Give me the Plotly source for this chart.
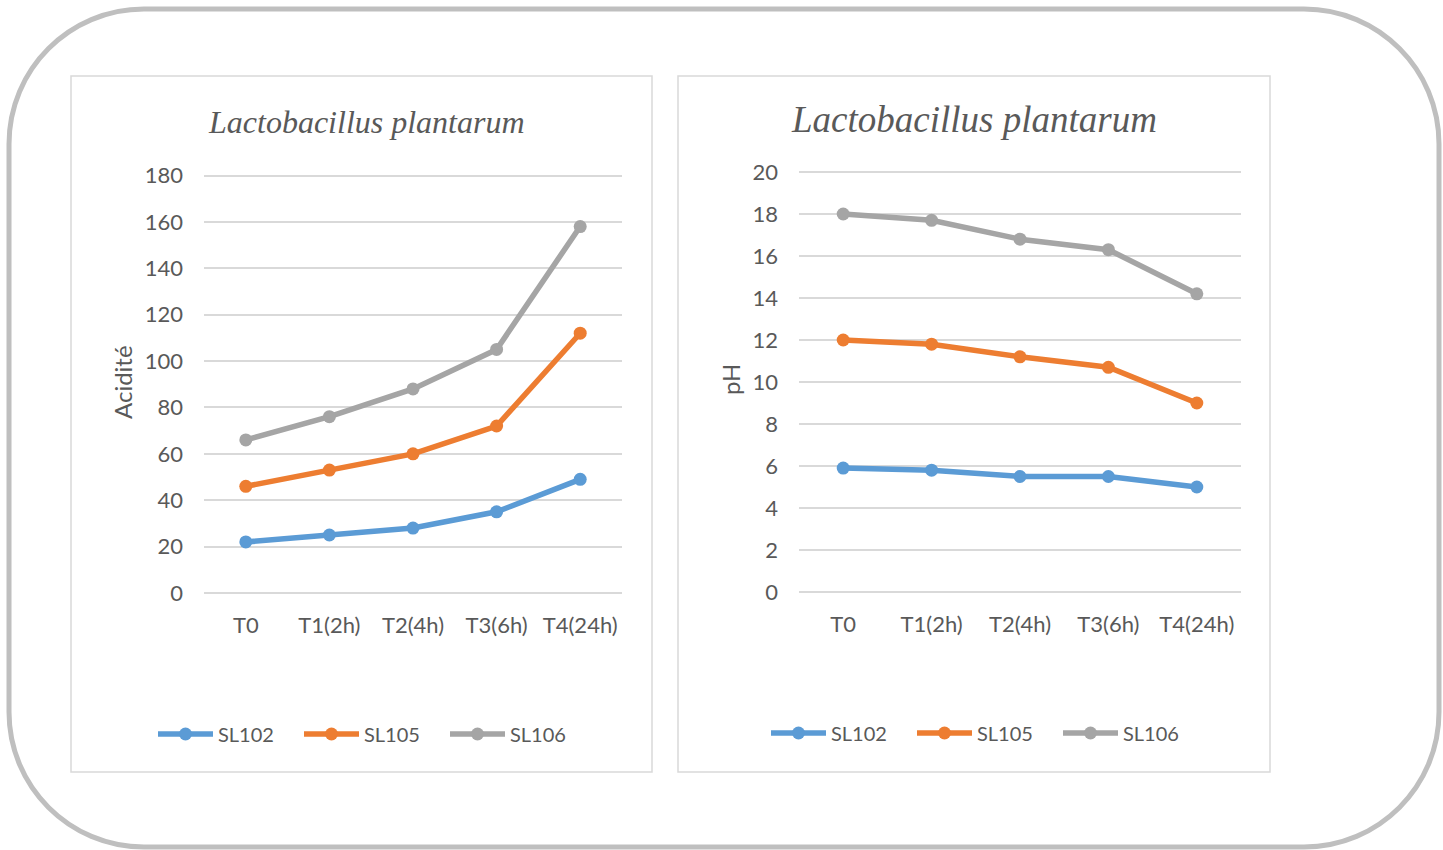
import plotly.graph_objects as go

# ---- data ----
categories = ["T0", "T1(2h)", "T2(4h)", "T3(6h)", "T4(24h)"]
series_names = ["SL102", "SL105", "SL106"]

acidity_sl102 = [22, 25, 28, 35, 49]
acidity_sl105 = [46, 53, 60, 72, 112]
acidity_sl106 = [66, 76, 88, 105, 158]

ph_sl102 = [5.9, 5.8, 5.5, 5.5, 5.0]
ph_sl105 = [12.0, 11.8, 11.2, 10.7, 9.0]
ph_sl106 = [18.0, 17.7, 16.8, 16.3, 14.2]

acidity_ticks = [0, 20, 40, 60, 80, 100, 120, 140, 160, 180]
ph_ticks = [0, 2, 4, 6, 8, 10, 12, 14, 16, 18, 20]

colors = ["#5B9BD5", "#ED7D31", "#A5A5A5"]
TEXT = "#595959"
GRID = "#D9D9D9"

W, H = 1443, 850


def fx(px):
    return px / W


def fy(py):
    return 1 - py / H


def y_axis_geometry(vmin, vmax, py_min, py_max, pad=3):
    """Range and domain so that vmin..vmax sit at pixel rows py_min..py_max,
    with a few pixels of slack so the end gridlines are kept."""
    per_px = (vmax - vmin) / (py_min - py_max)
    rng = [vmin - pad * per_px, vmax + pad * per_px]
    dom = [fy(py_min + pad), fy(py_max - pad)]
    return rng, dom


fig = go.Figure()

for name, vals, col in zip(series_names, [acidity_sl102, acidity_sl105, acidity_sl106], colors):
    fig.add_trace(go.Scatter(
        x=categories, y=vals, name=name, mode="lines+markers",
        line=dict(color=col, width=5.5), marker=dict(color=col, size=13),
        xaxis="x", yaxis="y", legend="legend",
    ))

for name, vals, col in zip(series_names, [ph_sl102, ph_sl105, ph_sl106], colors):
    fig.add_trace(go.Scatter(
        x=categories, y=vals, name=name, mode="lines+markers",
        line=dict(color=col, width=5.5), marker=dict(color=col, size=13),
        xaxis="x2", yaxis="y2", legend="legend2",
    ))

tick_font = dict(family="Lato", size=22, color=TEXT)

common_x = dict(
    type="category", range=[-0.5, 4.5], showgrid=False, zeroline=False,
    showline=False, ticks="", tickfont=tick_font, ticklabelstandoff=14,
    fixedrange=True,
)
common_y = dict(
    showgrid=True, gridcolor=GRID, gridwidth=1.5, zeroline=False,
    showline=False, ticks="", tickfont=tick_font, ticklabelstandoff=20,
    fixedrange=True,
)

y1_range, y1_dom = y_axis_geometry(0, 180, 593, 175.5)
y2_range, y2_dom = y_axis_geometry(0, 20, 592, 172)

legend_style = dict(
    orientation="h", xanchor="left", yanchor="middle",
    font=dict(family="Lato", size=20, color=TEXT),
    bgcolor="rgba(0,0,0,0)", itemwidth=55, entrywidth=76, traceorder="normal",
)

fig.update_layout(
    width=W, height=H,
    margin=dict(l=0, r=0, t=0, b=0, autoexpand=False),
    paper_bgcolor="white", plot_bgcolor="white",
    xaxis=dict(domain=[fx(204), fx(622)], anchor="y", **common_x),
    yaxis=dict(domain=y1_dom, anchor="x", range=y1_range,
               tickvals=acidity_ticks, **common_y),
    xaxis2=dict(domain=[fx(799), fx(1241)], anchor="y2", **common_x),
    yaxis2=dict(domain=y2_dom, anchor="x2", range=y2_range,
                tickvals=ph_ticks, **common_y),
    legend=dict(x=fx(153), y=fy(734), **legend_style),
    legend2=dict(x=fx(766), y=fy(733), **legend_style),
    showlegend=True,
)

# chart titles
fig.add_annotation(text="<i>Lactobacillus plantarum</i>", x=fx(366), y=fy(122),
                   xref="paper", yref="paper", showarrow=False,
                   xanchor="center", yanchor="middle",
                   font=dict(family="Liberation Serif", size=32, color=TEXT))
fig.add_annotation(text="<i>Lactobacillus plantarum</i>", x=fx(974), y=fy(119),
                   xref="paper", yref="paper", showarrow=False,
                   xanchor="center", yanchor="middle",
                   font=dict(family="Liberation Serif", size=37, color=TEXT))

# axis titles
fig.add_annotation(text="Acidité", x=fx(122), y=fy(382), xref="paper", yref="paper",
                   showarrow=False, textangle=-90, xanchor="center", yanchor="middle",
                   font=dict(family="Lato", size=24, color=TEXT))
fig.add_annotation(text="pH", x=fx(731), y=fy(380), xref="paper", yref="paper",
                   showarrow=False, textangle=-90, xanchor="center", yanchor="middle",
                   font=dict(family="Lato", size=24, color=TEXT))

# panel frames
for x0, x1 in [(71, 652), (678, 1270)]:
    fig.add_shape(type="rect", xref="paper", yref="paper",
                  x0=fx(x0), x1=fx(x1), y0=fy(772), y1=fy(76),
                  line=dict(color=GRID, width=1.5), fillcolor="rgba(0,0,0,0)", layer="below")

# outer rounded frame
L, T, R, B, rad = 9, 9, 1439, 847, 135
k = 0.5523 * rad


def pt(px, py):
    return f"{fx(px):.5f},{fy(py):.5f}"


path = (
    f"M {pt(L + rad, T)} L {pt(R - rad, T)} "
    f"C {pt(R - rad + k, T)} {pt(R, T + rad - k)} {pt(R, T + rad)} "
    f"L {pt(R, B - rad)} "
    f"C {pt(R, B - rad + k)} {pt(R - rad + k, B)} {pt(R - rad, B)} "
    f"L {pt(L + rad, B)} "
    f"C {pt(L + rad - k, B)} {pt(L, B - rad + k)} {pt(L, B - rad)} "
    f"L {pt(L, T + rad)} "
    f"C {pt(L, T + rad - k)} {pt(L + rad - k, T)} {pt(L + rad, T)} Z"
)
fig.add_shape(type="path", xref="paper", yref="paper", path=path,
              line=dict(color="#BFBFBF", width=5), fillcolor="rgba(0,0,0,0)")

fig.write_html("out.html")
